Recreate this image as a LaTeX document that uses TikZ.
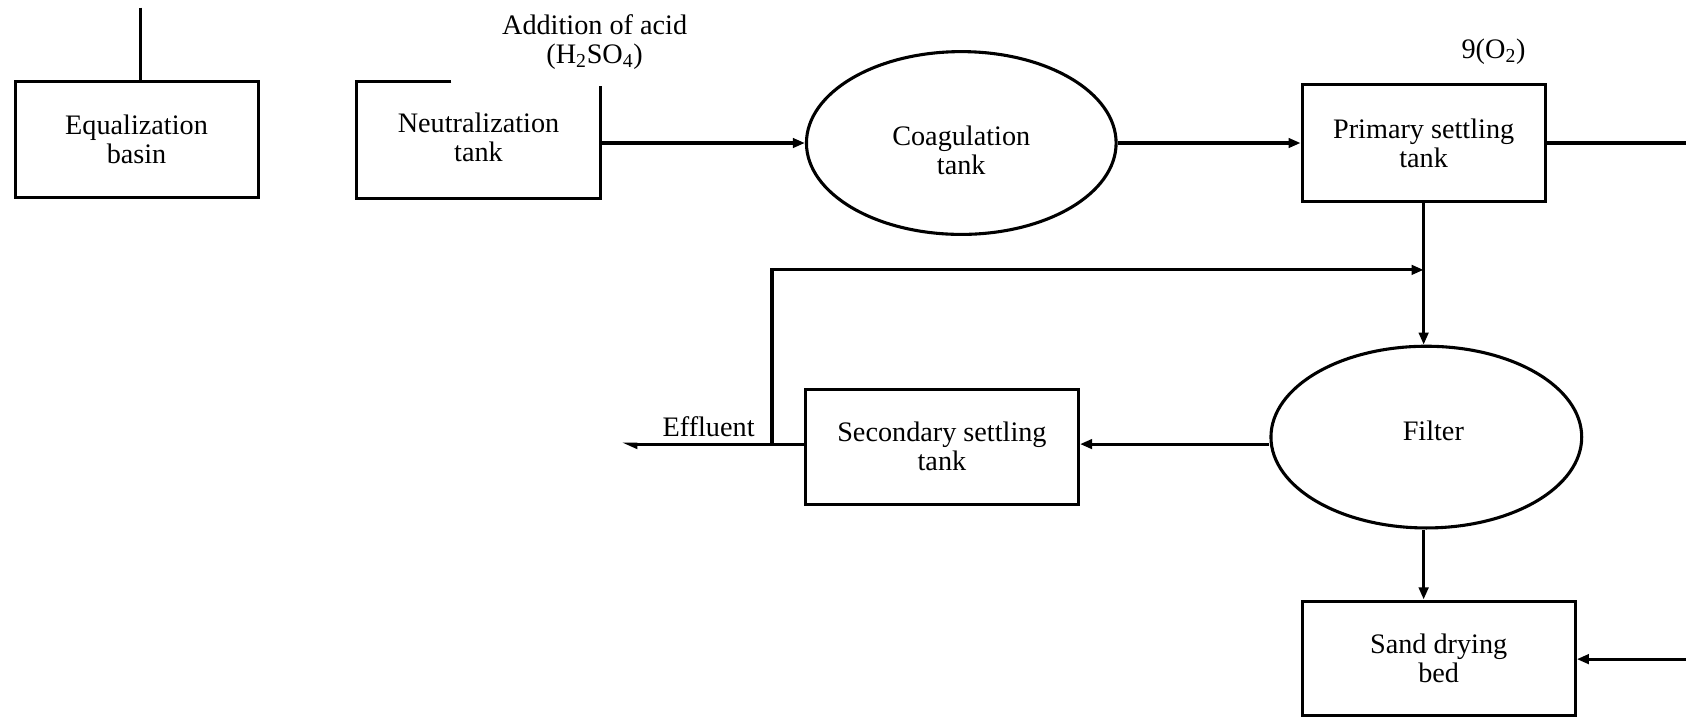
\documentclass[tikz,border=0pt]{standalone}
\usepackage{fontspec}
\setmainfont{Liberation Serif}
\usetikzlibrary{arrows.meta,shapes.geometric,calc}
\begin{document}
\begin{tikzpicture}[x=0.8pt,y=-0.8pt,
  every node/.style={font=\fontsize{21}{21.6}\selectfont, align=center},
  lw/.style={line width=2.3pt},
  boxn/.style={draw, lw, rectangle, inner sep=0pt},
  elln/.style={draw, lw, ellipse, inner sep=0pt, minimum width=230.4pt, minimum height=136pt},
  arr/.style={lw, -{Triangle[length=9pt,width=7pt]}},
  flow/.style={lw}
]
\useasboundingbox (0,0) rectangle (1568,667);

% nodes
\node[boxn, minimum width=180.8pt, minimum height=86.4pt] (eq) at (127,130) {Equalization\\basin};
\node[minimum width=180.8pt, minimum height=86.4pt, inner sep=0pt] (nt) at (445,128) {Neutralization\\tank};
\node[elln] (co) at (894,133) {};
\node (cot) at (894,140) {Coagulation\\tank};
\node[boxn, minimum width=180.8pt, minimum height=86.4pt] (ps) at (1324,133) {Primary settling\\tank};
\node[elln, minimum width=231.2pt, minimum height=135.2pt] (fi) at (1326.5,406.5) {};
\node (fit) at (1333,401) {Filter};
\node[boxn, minimum width=203.2pt, minimum height=85.6pt] (ss) at (876,415.5) {Secondary settling\\tank};
\node[boxn, minimum width=203.2pt, minimum height=84.8pt] (sd) at (1338,612) {Sand drying\\bed};

\node (acid) at (553,39) {Addition of acid\\(H\textsubscript{2}SO\textsubscript{4})};
\node (ox) at (1389,48) {9(O\textsubscript{2})};
\node[anchor=base] (eff) at (659,406) {Effluent};

% open-top neutralization tank
\draw[lw] ($(nt.north west)+(88,2)$) -- ($(nt.north west)+(0,2)$) -- ($(nt.south west)+(0,2)$) -- ($(nt.south east)+(0,2)$) -- ($(nt.north east)+(0,6)$);

% coordinates
\coordinate (t1) at (131,7);
\coordinate (r1) at (718,413);
\coordinate (r2) at (0,251);
\coordinate (effend) at (578,413);
\coordinate (redge1) at (1568,133);
\coordinate (redge2) at (1568,613);

% connectors
\draw[flow] (t1) -- (t1 |- eq.north);
\draw[arr] (nt.east |- co.west) -- (co.west);
\draw[arr] (co.east) -- (ps.west);
\draw[flow] (ps.east) -- (redge1);
\draw[arr] (ps.south) -- (ps.south |- fi.north);
\draw[arr] (r1) |- (ps.south |- r2);
\draw[arr] (fi.west |- r1) -- (ss.east |- r1);
\draw[lw, -{Triangle[length=9pt,width=7pt,harpoon]}] (ss.west |- r1) -- (effend);
\draw[arr] (fi.south -| ps.south) -- (ps.south |- sd.north);
\draw[arr] (redge2) -- (sd.east |- redge2);
\end{tikzpicture}
\end{document}
